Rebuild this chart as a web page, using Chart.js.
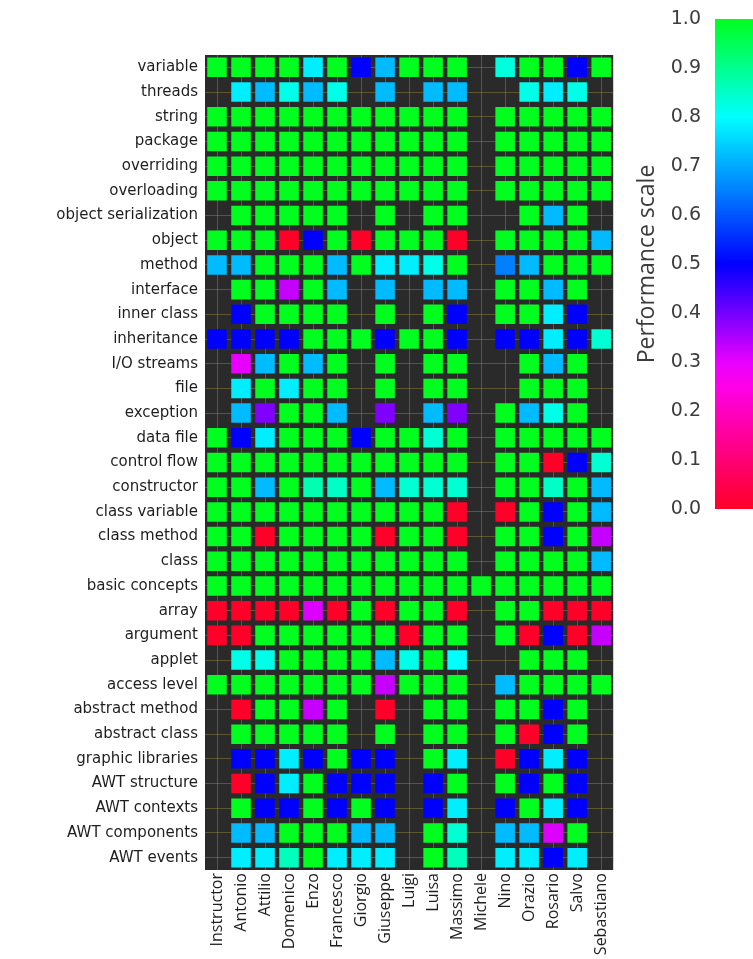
<!DOCTYPE html>
<html>
<head>
<meta charset="utf-8">
<script src="https://cdn.jsdelivr.net/npm/chart.js@4.4.1/dist/chart.umd.min.js"></script>
<style>
    body { margin: 0; background: #fff; width: 753px; height: 959px; overflow: hidden; position: relative; }
    #heat { position: absolute; left: 0; top: 0; }
    #bar { position: absolute; left: 620px; top: 0; }
</style>
</head>
<body>
<canvas id="heat" width="627" height="959"></canvas>
<canvas id="bar" width="160" height="530"></canvas>
<script>
// data ////////////////////////////////////////////////////////////////////
var students = ['Instructor', 'Antonio', 'Attilio', 'Domenico', 'Enzo', 'Francesco', 'Giorgio', 'Giuseppe',
    'Luigi', 'Luisa', 'Massimo', 'Michele', 'Nino', 'Orazio', 'Rosario', 'Salvo', 'Sebastiano'];

var topics = ['variable', 'threads', 'string', 'package', 'overriding', 'overloading', 'object serialization',
    'object', 'method', 'interface', 'inner class', 'inheritance', 'I/O streams', 'file', 'exception',
    'data file', 'control flow', 'constructor', 'class variable', 'class method', 'class', 'basic concepts',
    'array', 'argument', 'applet', 'access level', 'abstract method', 'abstract class', 'graphic libraries',
    'AWT structure', 'AWT contexts', 'AWT components', 'AWT events'];

// one row per topic, one value per student (null = no data)
var scores = [
    [1, 1, 1, 1, 0.78, 1, 0.5, 0.72, 1, 1, 1, null, 0.83, 1, 1, 0.5, 1],
    [null, 0.78, 0.72, 0.82, 0.72, 0.82, null, 0.72, null, 0.72, 0.72, null, null, 0.82, 0.78, 0.82, null],
    [1, 1, 1, 1, 1, 1, 1, 1, 1, 1, 1, null, 1, 1, 1, 1, 1],
    [1, 1, 1, 1, 1, 1, 1, 1, 1, 1, 1, null, 1, 1, 1, 1, 1],
    [1, 1, 1, 1, 1, 1, 1, 1, 1, 1, 1, null, 1, 1, 1, 1, 1],
    [1, 1, 1, 1, 1, 1, 1, 1, 1, 1, 1, null, 1, 1, 1, 1, 1],
    [null, 1, 1, 1, 1, 1, null, 1, null, 1, 1, null, null, 1, 0.72, 1, null],
    [1, 1, 1, 0, 0.5, 1, 0, 1, 1, 1, 0, null, 1, 1, 1, 1, 0.72],
    [0.72, 0.72, 1, 1, 1, 0.72, 1, 0.78, 0.78, 0.82, 1, null, 0.65, 0.72, 1, 1, 1],
    [null, 1, 1, 0.33, 1, 0.72, null, 0.72, null, 0.72, 0.72, null, 1, 1, 0.72, 1, null],
    [null, 0.5, 1, 1, 1, 1, null, 1, null, 1, 0.5, null, 1, 1, 0.78, 0.5, null],
    [0.5, 0.5, 0.5, 0.5, 1, 1, 1, 0.5, 1, 1, 0.5, null, 0.5, 0.5, 0.78, 0.5, 0.84],
    [null, 0.3, 0.72, 1, 0.72, 1, null, 1, null, 1, 1, null, null, 1, 0.72, 1, null],
    [null, 0.78, 1, 0.78, 1, 1, null, 1, null, 1, 1, null, null, 1, 1, 1, null],
    [null, 0.72, 0.39, 1, 1, 0.72, null, 0.39, null, 0.72, 0.39, null, 1, 0.72, 0.82, 1, null],
    [1, 0.5, 0.78, 1, 1, 1, 0.5, 1, 1, 0.84, 1, null, 1, 1, 1, 1, 1],
    [1, 1, 1, 1, 1, 1, 1, 1, 1, 1, 1, null, 1, 1, 0, 0.5, 0.84],
    [1, 1, 0.72, 1, 0.87, 0.85, 1, 0.72, 0.84, 0.84, 0.84, null, 1, 1, 0.85, 1, 0.72],
    [1, 1, 1, 1, 1, 1, 1, 1, 1, 1, 0, null, 0, 1, 0.5, 1, 0.72],
    [1, 1, 0, 1, 1, 1, 1, 0, 1, 1, 0, null, 1, 1, 0.5, 1, 0.33],
    [1, 1, 1, 1, 1, 1, 1, 1, 1, 1, 1, null, 1, 1, 1, 1, 0.72],
    [1, 1, 1, 1, 1, 1, 1, 1, 1, 1, 1, 1, 1, 1, 1, 1, 1],
    [0, 0, 0, 0, 0.31, 0, 1, 0, 1, 1, 0, null, 1, 1, 0, 0, 0],
    [0, 0, 1, 1, 1, 1, 1, 1, 0, 1, 1, null, 1, 0, 0.5, 0, 0.33],
    [null, 0.82, 0.82, 1, 1, 1, 1, 0.72, 0.82, 1, 0.8, null, null, 1, 1, 1, null],
    [1, 1, 1, 1, 1, 1, 1, 0.33, 1, 1, 1, null, 0.72, 1, 1, 1, 1],
    [null, 0, 1, 1, 0.33, 1, null, 0, null, 1, 1, null, 1, 1, 0.5, 1, null],
    [null, 1, 1, 1, 1, 1, null, 1, null, 1, 1, null, 1, 0, 0.5, 1, null],
    [null, 0.5, 0.5, 0.78, 0.5, 1, 0.5, 0.5, null, 1, 0.78, null, 0, 0.5, 0.78, 0.5, null],
    [null, 0, 0.5, 0.78, 1, 0.5, 0.5, 0.5, null, 0.5, 1, null, 1, 0.5, 1, 0.5, null],
    [null, 1, 0.5, 0.5, 1, 0.5, 1, 0.5, null, 0.5, 0.78, null, 0.5, 1, 0.78, 0.5, null],
    [null, 0.72, 0.72, 1, 1, 1, 0.72, 0.72, null, 1, 0.84, null, 0.72, 0.72, 0.31, 1, null],
    [null, 0.78, 0.78, 0.86, 1, 0.78, 0.78, 0.78, null, 1, 0.86, null, 0.78, 0.78, 0.5, 0.78, null]
];

var scaleTicks = [0, 0.1, 0.2, 0.3, 0.4, 0.5, 0.6, 0.7, 0.8, 0.9, 1.0];

// colour map ///////////////////////////////////////////////////////////////
var cmap = [[0, [255, 0, 40]], [0.28, [255, 0, 255]], [0.5, [0, 0, 255]], [0.8, [0, 255, 255]], [1, [0, 255, 30]]];

function colorFor(v) {
    for (var i = 1; i < cmap.length; i++) {
        if (v <= cmap[i][0]) {
            var a = cmap[i - 1], b = cmap[i];
            var t = (v - a[0]) / (b[0] - a[0]);
            var c = a[1].map(function (k, n) { return Math.round(k + (b[1][n] - k) * t); });
            return 'rgb(' + c[0] + ',' + c[1] + ',' + c[2] + ')';
        }
    }
    var l = cmap[cmap.length - 1][1];
    return 'rgb(' + l[0] + ',' + l[1] + ',' + l[2] + ')';
}

// heat map ///////////////////////////////////////////////////////////////
var cells = [];
topics.forEach(function (t, i) {
    students.forEach(function (s, j) {
        if (scores[i][j] !== null) cells.push({ x: s, y: t, v: scores[i][j] });
    });
});

var darkBg = {
    id: 'darkBg',
    beforeDraw: function (chart) {
        var a = chart.chartArea, ctx = chart.ctx;
        ctx.save();
        ctx.fillStyle = '#2b2a2a';
        ctx.fillRect(a.left, a.top, a.right - a.left, a.bottom - a.top);
        ctx.restore();
    }
};

new Chart(document.getElementById('heat'), {
    type: 'scatter',
    data: {
        datasets: [{
            data: cells,
            pointStyle: 'rect',
            pointRadius: 13.8,
            pointHoverRadius: 13.8,
            borderWidth: 0,
            backgroundColor: function (c) { return c.raw ? colorFor(c.raw.v) : '#000'; }
        }]
    },
    options: {
        responsive: false,
        animation: false,
        events: [],
        layout: { padding: { top: 55, right: 0, left: 0, bottom: 0 } },
        plugins: { legend: { display: false }, tooltip: { enabled: false } },
        scales: {
            x: {
                type: 'category',
                labels: students,
                offset: true,
                afterFit: function (s) { s.height = 89; },
                grid: { color: 'rgba(190,165,70,0.35)', drawTicks: false },
                border: { display: false },
                ticks: {
                    minRotation: 90, maxRotation: 90, padding: 3, autoSkip: false,
                    color: '#1e1e1e', font: { family: 'Open Sans', size: 16 }
                }
            },
            y: {
                type: 'category',
                labels: topics,
                offset: true,
                afterFit: function (s) { s.width = 205; },
                grid: { color: 'rgba(190,165,70,0.35)', drawTicks: false },
                border: { display: false },
                ticks: {
                    padding: 7, autoSkip: false,
                    color: '#1e1e1e', font: { family: 'DejaVu Sans', size: 15 }
                }
            }
        }
    },
    plugins: [darkBg]
});

// colour bar ///////////////////////////////////////////////////////////////
new Chart(document.getElementById('bar'), {
    type: 'bar',
    data: {
        labels: ['scale'],
        datasets: [{
            data: [[0, 1]],
            barPercentage: 1,
            categoryPercentage: 1,
            borderWidth: 0,
            backgroundColor: function (c) {
                var a = c.chart.chartArea;
                if (!a) return '#0f0';
                var g = c.chart.ctx.createLinearGradient(0, a.bottom, 0, a.top);
                for (var k = 0; k <= 20; k++) g.addColorStop(k / 20, colorFor(k / 20));
                return g;
            }
        }]
    },
    options: {
        responsive: false,
        animation: false,
        events: [],
        layout: { padding: { top: 19, bottom: 21, left: 0, right: 0 } },
        plugins: { legend: { display: false }, tooltip: { enabled: false } },
        scales: {
            x: { display: false },
            y: {
                min: 0, max: 1,
                afterFit: function (s) { s.width = 95; },
                afterBuildTicks: function (s) { s.ticks = scaleTicks.map(function (v) { return { value: v }; }); },
                grid: { display: false },
                border: { display: false },
                ticks: {
                    padding: 6,
                    color: '#3c3c3c',
                    font: { family: 'DejaVu Sans', size: 19 },
                    callback: function (v) { return Number(v).toFixed(1); }
                },
                title: {
                    display: true,
                    text: 'Performance scale',
                    color: '#3c3c3c',
                    font: { family: 'Open Sans', size: 23 },
                    padding: { top: 14, bottom: 0 }
                }
            }
        }
    }
});
</script>
</body>
</html>
